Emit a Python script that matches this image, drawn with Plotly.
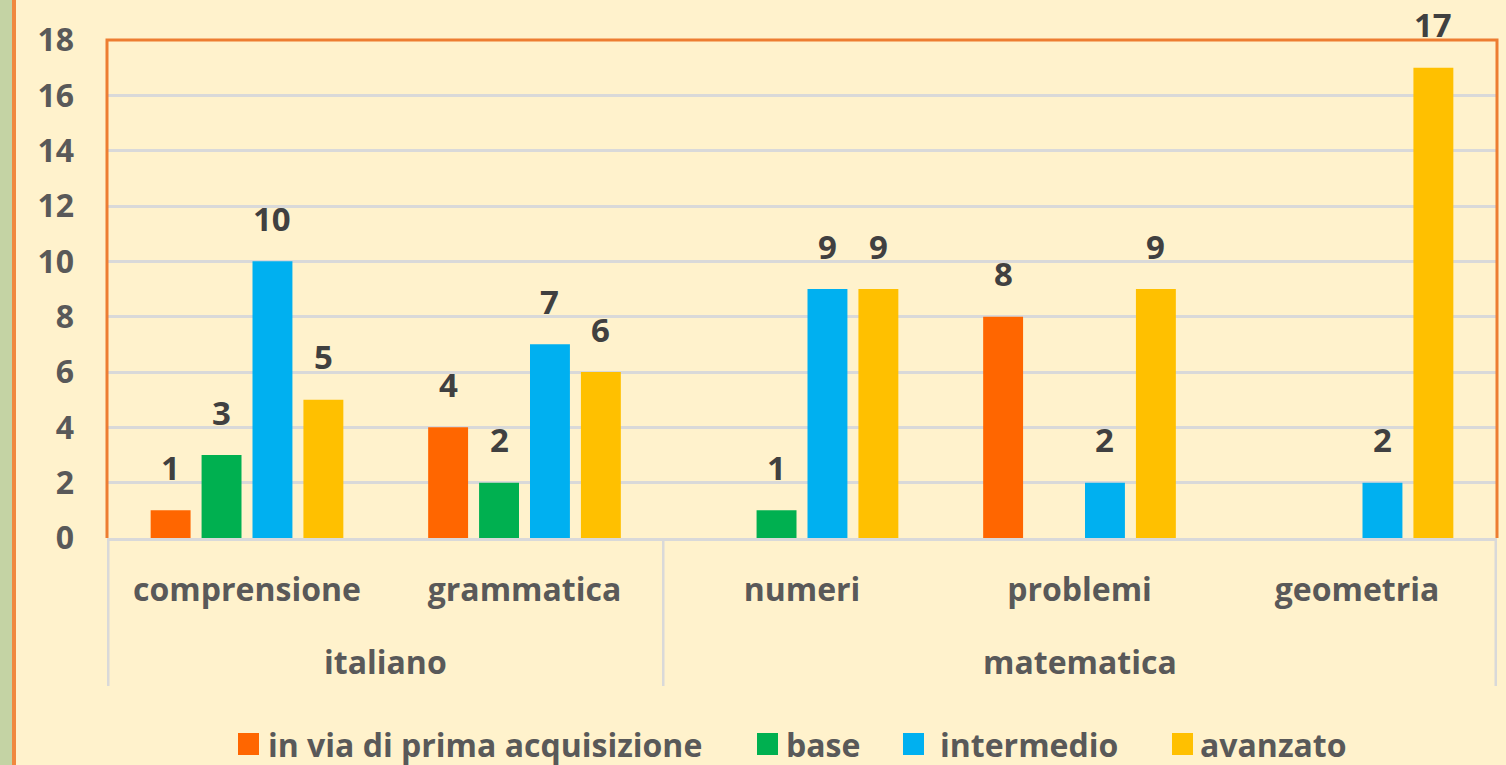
import plotly.graph_objects as go

# data
groups = ["italiano", "italiano", "matematica", "matematica", "matematica"]
subjects = ["comprensione", "grammatica", "numeri", "problemi", "geometria"]
series_names = ["in via di prima acquisizione", "base", "intermedio", "avanzato"]
in_via = [1, 4, None, 8, None]
base = [3, 2, 1, None, None]
intermedio = [10, 7, 9, 2, 2]
avanzato = [5, 6, 9, 9, 17]

COLORS = ["#FF6600", "#00B050", "#00B0F0", "#FFC000"]
BG = "#FFF2CC"
GRID = "#D9D9D9"
ORANGE = "#ED7D31"
FONT = "Open Sans"
TXT = "#595959"

W, H = 1506, 765
L, R, T, B = 107, 9, 40, 227
PW, PH = W - L - R, H - T - B
BARGAP = 0.266
GROUPGAP = 0.216


def px_x(px):
    return (px - L) / PW


def px_y(py):
    return (H - B - py) / PH


fig = go.Figure()
all_series = [in_via, base, intermedio, avanzato]
for name, vals, col in zip(series_names, all_series, COLORS):
    fig.add_trace(go.Bar(x=subjects, y=vals, name=name, marker_color=col,
                         marker_line_width=0, showlegend=False))

# data labels, placed over each bar from its value
n = len(all_series)
pitch = (1 - BARGAP) / n
annotations = []
for j, vals in enumerate(all_series):
    for i, v in enumerate(vals):
        if v is None:
            continue
        annotations.append(dict(
            x=i + (j - (n - 1) / 2) * pitch, y=v, xref="x", yref="y",
            text=f"<b>{v}</b>", showarrow=False, yanchor="middle", yshift=43,
            font=dict(family=FONT, size=33, color="#404040")))

# group labels
for g in dict.fromkeys(groups):
    idx = [i for i, gg in enumerate(groups) if gg == g]
    annotations.append(dict(
        x=(idx[0] + idx[-1]) / 2, y=px_y(661), xref="x", yref="paper",
        text=f"<b>{g}</b>", showarrow=False, yanchor="middle",
        font=dict(family=FONT, size=32, color=TXT)))

# manual legend
sq_left = [238, 757, 903, 1172]
txt_left = [266, 784, 938, 1198]
shapes = []
for name, col, sx, tx in zip(series_names, COLORS, sq_left, txt_left):
    shapes.append(dict(type="rect", xref="paper", yref="paper",
                       x0=px_x(sx), x1=px_x(sx + 21), y0=px_y(755), y1=px_y(733),
                       fillcolor=col, line_width=0))
    annotations.append(dict(
        x=px_x(tx), y=px_y(744), xref="paper", yref="paper", xanchor="left",
        yanchor="middle", text=f"<b>{name}</b>", showarrow=False,
        font=dict(family=FONT, size=32, color=TXT)))

# group dividers below the axis
for xd in [-0.5, 1.5, 4.5]:
    shapes.append(dict(type="line", xref="x", yref="paper", x0=xd, x1=xd,
                       y0=0, y1=px_y(686), line=dict(color=GRID, width=2.5)))

# orange frame (left, top, right) of the plot area
shapes.append(dict(type="path", xref="paper", yref="paper",
                   path="M0,0 L0,1 L1,1 L1,0", line=dict(color=ORANGE, width=3)))

# left page strip
shapes.append(dict(type="rect", xref="paper", yref="paper", x0=px_x(0), x1=px_x(12),
                   y0=px_y(H), y1=px_y(0), fillcolor="#C4D3A4", line_width=0))
shapes.append(dict(type="rect", xref="paper", yref="paper", x0=px_x(12), x1=px_x(16),
                   y0=px_y(H), y1=px_y(0), fillcolor="#F0883E", line_width=0))

fig.update_layout(
    width=W, height=H,
    margin=dict(l=L, r=R, t=T, b=B),
    paper_bgcolor=BG, plot_bgcolor=BG,
    barmode="group", bargap=BARGAP, bargroupgap=GROUPGAP,
    font=dict(family=FONT, color=TXT),
    annotations=annotations, shapes=shapes,
    showlegend=False,
)
fig.update_xaxes(showgrid=False, showline=True, linecolor=GRID, linewidth=3,
                 ticks="", tickfont=dict(family=FONT, size=32, color=TXT, weight="bold"),
                 ticklabelstandoff=22)
fig.update_yaxes(range=[0, 18], dtick=2, showgrid=True, gridcolor=GRID, gridwidth=2.5,
                 zeroline=False, showline=False, ticks="",
                 tickfont=dict(family=FONT, size=32, color=TXT, weight="bold"),
                 ticklabelstandoff=32)

# drop the default page margin so the figure sits at the window corner
fig.write_html("out.html", config={"displayModeBar": False},
               post_script="document.body.style.margin='0';")
